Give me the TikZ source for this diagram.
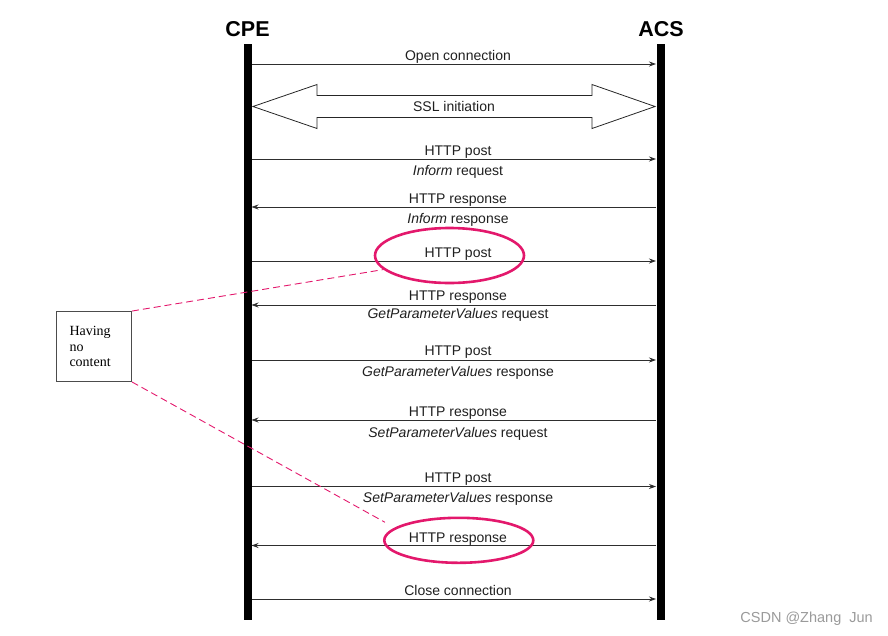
\documentclass[tikz,border=0pt]{standalone}
\usepackage{fontspec}
\setmainfont{Liberation Sans}
\newfontfamily\notefont{Liberation Serif}
\usetikzlibrary{arrows.meta,positioning,calc,shapes.geometric}
\definecolor{hotpink}{HTML}{E3186C}
\definecolor{msgline}{HTML}{2E2E2E}
\definecolor{wmgray}{HTML}{9A9A9A}

\begin{document}
\begin{tikzpicture}[x=1pt,y=-1pt,
  lifeline/.style={line width=8pt},
  party/.style={anchor=base,inner sep=0pt,font=\fontsize{21.5}{24}\selectfont\bfseries},
  msg/.style={draw=msgline,line width=0.8pt,-{Stealth[length=7pt,width=5pt]}},
  lbl/.style={anchor=base,inner sep=0pt,font=\fontsize{14}{16}\selectfont,text=black!88},
  sslbox/.style={draw=black!85,line width=0.8pt},
  ringmark/.style={ellipse,draw=hotpink,line width=2.6pt,inner sep=0pt,minimum width=149pt},
  notebox/.style={draw=black!70,line width=0.9pt,minimum width=75pt,minimum height=70pt,
    text width=49pt,align=left,inner sep=0pt,font=\notefont\fontsize{14}{15.5}\selectfont},
  pointer/.style={draw=hotpink,line width=0.9pt,dash pattern=on 7pt off 4pt}]
\useasboundingbox (0,0) rectangle (888,635);

% the two parties
\node[party] (cpe) at (247.5,36.5) {CPE};
\node[party] (acs) at (661,36.5) {ACS};
\coordinate (cpetop) at (247.5,44);
\coordinate (cpebot) at (247.5,620);
\coordinate (acstop) at (661,44);
\coordinate (acsbot) at (661,620);
\draw[lifeline] (cpetop) -- (cpebot);
\draw[lifeline] (acstop) -- (acsbot);

% message ends on the lifelines
\foreach \n/\y in {1/64,2/159,3/207,4/261,5/305,6/360,7/420,8/486.5,9/545.5,10/599}{
  \coordinate (c\n) at (251.5,\y);
  \coordinate (a\n) at (656,\y);
}

% open connection
\draw[msg] (c1) -- (a1);
\node[lbl] (t1) at (458,60) {Open connection};

% SSL initiation
\coordinate (sl) at (253,106.5);
\coordinate (sr) at (655,106.5);
\draw[sslbox] (sl) -- ++(64,-22) -- ++(0,11) -- ($(sr)+(-63,-11)$) -- ++(0,-11) -- (sr)
  -- ++(-63,22) -- ++(0,-11) -- ($(sl)+(64,11)$) -- ++(0,11) -- cycle;
\node[lbl] (ssl) at (454,111) {SSL initiation};

% Inform
\draw[msg] (c2) -- (a2);
\node[lbl] (t2) at (458,155.5) {HTTP post};
\node[lbl] (b2) at (458,175) {\textit{Inform} request};
\draw[msg] (a3) -- (c3);
\node[lbl] (t3) at (458,203) {HTTP response};
\node[lbl] (b3) at (458,223) {\textit{Inform} response};

% empty post, GetParameterValues
\draw[msg] (c4) -- (a4);
\node[lbl] (t4) at (458,257.5) {HTTP post};
\draw[msg] (a5) -- (c5);
\node[lbl] (t5) at (458,300.5) {HTTP response};
\node[lbl] (b5) at (458,318) {\textit{GetParameterValues} request};
\draw[msg] (c6) -- (a6);
\node[lbl] (t6) at (458,355.5) {HTTP post};
\node[lbl] (b6) at (458,376) {\textit{GetParameterValues} response};

% SetParameterValues
\draw[msg] (a7) -- (c7);
\node[lbl] (t7) at (458,416) {HTTP response};
\node[lbl] (b7) at (458,437) {\textit{SetParameterValues} request};
\draw[msg] (c8) -- (a8);
\node[lbl] (t8) at (458,482) {HTTP post};
\node[lbl] (b8) at (458,502.5) {\textit{SetParameterValues} response};
\draw[msg] (a9) -- (c9);
\node[lbl] (t9) at (458,542) {HTTP response};

% close
\draw[msg] (c10) -- (a10);
\node[lbl] (t10) at (458,595) {Close connection};

% highlighted empty messages
\node[ringmark,minimum height=55pt] (ring1) at (449.5,255.5) {};
\node[ringmark,minimum height=45pt] (ring2) at (458.8,540.3) {};
\node[notebox] (note) at (94,346.5) {Having\\no\\content};
\coordinate (tip2) at ($(ring2.west)+(2,-18)$);
\draw[pointer] (note.north east) -- (ring1.192);
\draw[pointer] (note.south east) -- (tip2);

\node[anchor=base east,inner sep=0pt,text=wmgray,font=\fontsize{14.5}{16}\selectfont]
  (wm) at (873,622) {CSDN @Zhang\ \ Jun};
\end{tikzpicture}
\end{document}
